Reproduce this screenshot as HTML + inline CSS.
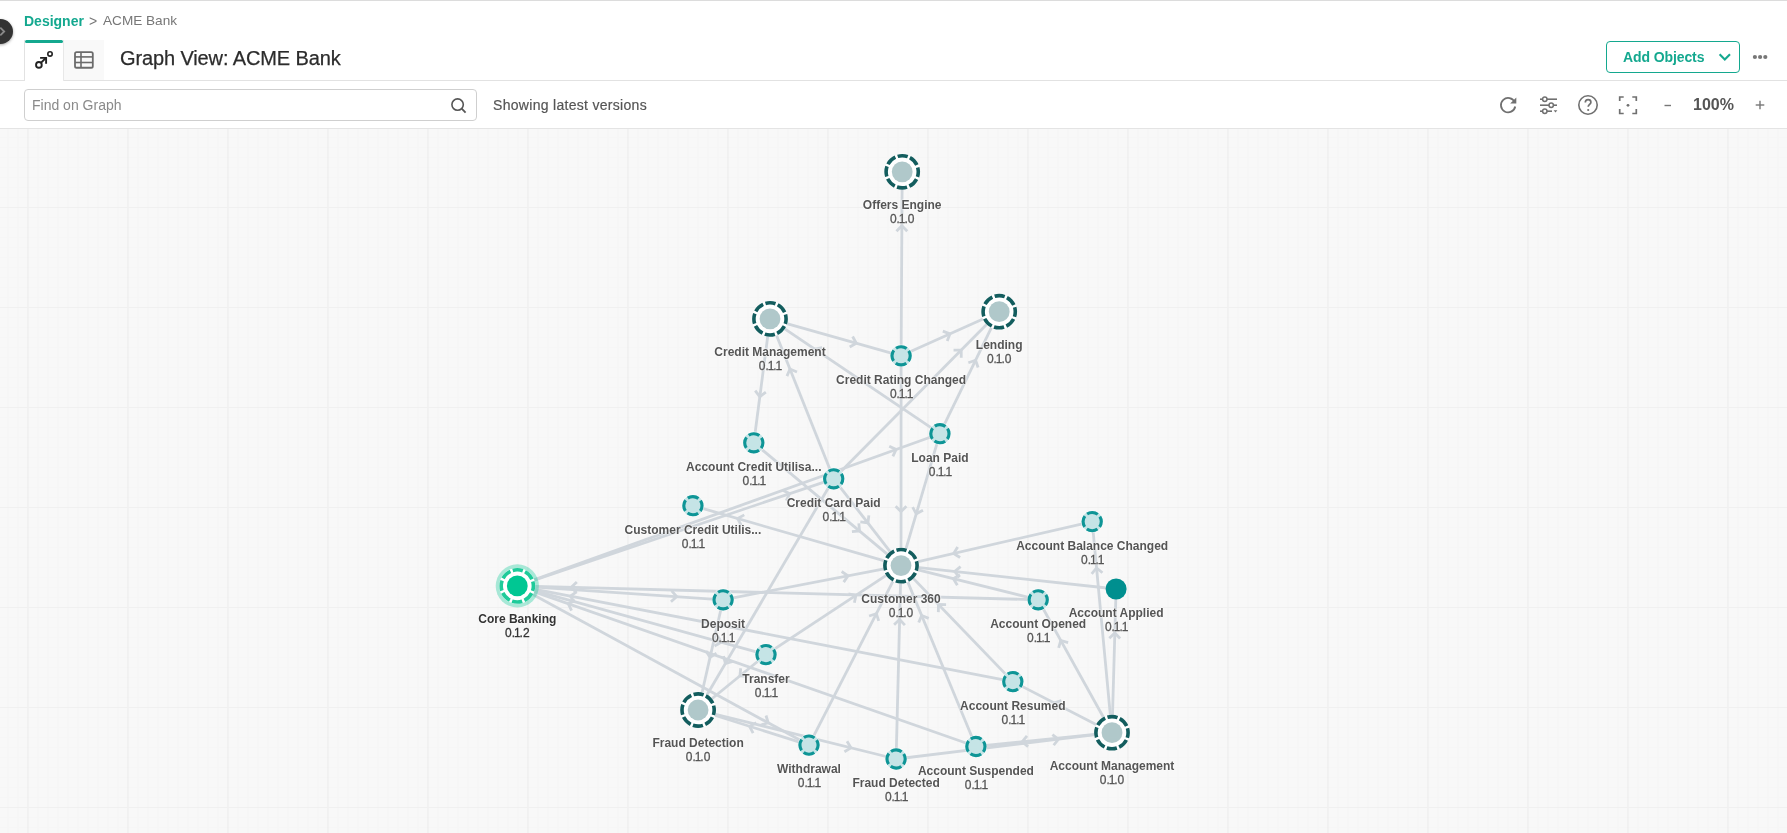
<!DOCTYPE html>
<html><head><meta charset="utf-8">
<style>
*{box-sizing:border-box;margin:0;padding:0}
html,body{width:1787px;height:833px;overflow:hidden;background:#fff;font-family:"Liberation Sans",sans-serif}
body>div{will-change:transform}
#top{position:absolute;left:0;top:0;width:1787px;height:1px;background:#dcdcdc}
#fab{position:absolute;left:-12.5px;top:19px;width:25px;height:25px;border-radius:50%;background:#333;box-shadow:0 1px 3px rgba(0,0,0,.35)}
.crumb{position:absolute;top:12px;font-size:14px;line-height:18px;white-space:nowrap}
#hdrline{position:absolute;left:0;top:80px;width:1787px;height:1px;background:#e2e2e2}
#tab1{position:absolute;left:24px;top:40px;width:40px;height:41px;background:#fff;border-left:1px solid #e2e2e2;border-right:1px solid #e8e8e8}
#tab1bar{position:absolute;left:25px;top:40px;width:38px;height:3px;border-radius:2px;background:#14a88f}
#tab2{position:absolute;left:64px;top:40px;width:40px;height:40px;background:#f9f9f9}
#title{position:absolute;left:120px;top:46px;font-size:20px;line-height:24px;color:#2c2c2c;white-space:nowrap;letter-spacing:-0.12px;-webkit-text-stroke:0.25px #2c2c2c}
#addbtn{position:absolute;left:1606px;top:41px;width:134px;height:32px;border:1px solid #14a88f;border-radius:4px}
#addtxt{position:absolute;left:1623px;top:49px;font-size:14px;line-height:16px;font-weight:bold;color:#14a88f;white-space:nowrap;letter-spacing:-0.1px}
#search{position:absolute;left:24px;top:89px;width:453px;height:32px;border:1px solid #cfcfcf;border-radius:4px;background:#fff}
#stxt{position:absolute;left:32px;top:97px;font-size:14px;line-height:16px;color:#8a8a8a;white-space:nowrap}
#show{position:absolute;left:493px;top:97px;font-size:14px;line-height:16px;color:#555;white-space:nowrap;letter-spacing:0.3px;-webkit-text-stroke:0.2px #555}
#zoom{position:absolute;left:1693px;top:96px;font-size:16px;line-height:18px;font-weight:bold;color:#555;white-space:nowrap}
#tbline{position:absolute;left:0;top:128px;width:1787px;height:1px;background:#e4e4e4}
#graph{position:absolute;left:0;top:129px;width:1787px;height:704px;background:#f8f8f8;overflow:hidden}
svg.g{position:absolute;left:0;top:0}
.gm{stroke:#f6f6f6;stroke-width:1}
.gmv{stroke:#f4f4f4;stroke-width:1}
.gM{stroke:#f0f0f0;stroke-width:1}
.gMv{stroke:#ebebeb;stroke-width:1}
.edges line{stroke:#d0d6dc;stroke-width:2.8}
.arrows path{fill:none;stroke:#d0d6dc;stroke-width:2.8;stroke-linecap:butt;stroke-linejoin:miter}
.lb{position:absolute;width:200px;text-align:center;font-size:12px;line-height:14px;white-space:nowrap}
.lb b{font-weight:bold}
.lb span{font-size:12px;-webkit-text-stroke:0.3px currentColor}
.lb i{font-style:normal;margin:0 -1.1px}
.lb{text-shadow:0 0 1px #fff,0 0 2px #fff,0 0 2px #fff}
</style></head><body>
<div id="top"></div>
<div id="fab"><svg width="26" height="26" style="position:absolute;left:0;top:0"><path d="M12.3,8.6 L16.2,12.5 L12.3,16.4" fill="none" stroke="#8a8a8a" stroke-width="1.8"/></svg></div>
<div class="crumb" style="left:24px;color:#14a88f;font-weight:bold">Designer</div>
<div class="crumb" style="left:89px;color:#777">&gt;</div>
<div class="crumb" style="left:103px;color:#777;font-size:13.6px">ACME Bank</div>
<div id="hdrline"></div>
<div id="tab2"></div>
<div id="tab1"></div>
<div id="tab1bar"></div>
<svg style="position:absolute;left:0;top:0" width="110" height="80">
 <circle cx="38.9" cy="64.9" r="2.85" fill="none" stroke="#222" stroke-width="1.9"/>
 <line x1="40.9" y1="62.9" x2="45.8" y2="58" stroke="#222" stroke-width="1.9"/>
 <path d="M40.1,57.9 L46.1,57.9 L46.1,63.7" fill="none" stroke="#222" stroke-width="1.9"/>
 <circle cx="50" cy="53.9" r="2.2" fill="none" stroke="#222" stroke-width="1.6"/>
 <rect x="75" y="52.15" width="17.8" height="15.6" rx="1.6" fill="none" stroke="#6b6b6b" stroke-width="1.8"/>
 <line x1="75" y1="56.9" x2="92.8" y2="56.9" stroke="#6b6b6b" stroke-width="1.6"/>
 <line x1="75" y1="62.5" x2="92.8" y2="62.5" stroke="#6b6b6b" stroke-width="1.6"/>
 <line x1="81" y1="52.15" x2="81" y2="67.75" stroke="#6b6b6b" stroke-width="1.6"/>
</svg>
<div id="title">Graph View: ACME Bank</div>
<div id="addbtn"></div>
<div id="addtxt">Add Objects</div>
<svg style="position:absolute;left:1716px;top:50px" width="18" height="14"><path d="M3.6,4.2 L8.8,9.4 L14,4.2" fill="none" stroke="#14a88f" stroke-width="2.1"/></svg>
<svg style="position:absolute;left:1748px;top:50px" width="24" height="14"><circle cx="6.9" cy="7" r="2.1" fill="#777"/><circle cx="12.1" cy="7" r="2.1" fill="#777"/><circle cx="17.3" cy="7" r="2.1" fill="#777"/></svg>
<div id="search"></div>
<div id="stxt">Find on Graph</div>
<svg style="position:absolute;left:448px;top:95px" width="22" height="22">
 <circle cx="9.6" cy="9.6" r="5.7" fill="none" stroke="#555" stroke-width="1.6"/>
 <line x1="13.7" y1="13.7" x2="17.6" y2="17.6" stroke="#555" stroke-width="1.8"/>
</svg>
<div id="show">Showing latest versions</div>
<!-- toolbar icons -->
<svg style="position:absolute;left:1496px;top:93px" width="24" height="24">
 <path d="M18.7,9.2 A7.2,7.2 0 1 0 19.2,13.5" fill="none" stroke="#707070" stroke-width="1.8"/>
 <path d="M20.3,4.5 L20.3,10.6 L14.2,10.6 Z" fill="#707070"/>
</svg>
<svg style="position:absolute;left:1536px;top:93px" width="24" height="24">
 <line x1="4" y1="6.2" x2="21" y2="6.2" stroke="#707070" stroke-width="1.6"/>
 <line x1="4" y1="12.2" x2="21" y2="12.2" stroke="#707070" stroke-width="1.6"/>
 <line x1="4" y1="18.2" x2="16" y2="18.2" stroke="#707070" stroke-width="1.6"/>
 <circle cx="8.8" cy="6.2" r="2.2" fill="#fff" stroke="#707070" stroke-width="1.5"/>
 <circle cx="15.2" cy="12.2" r="2.2" fill="#fff" stroke="#707070" stroke-width="1.5"/>
 <circle cx="8.8" cy="18.2" r="2.2" fill="#fff" stroke="#707070" stroke-width="1.5"/>
 <path d="M17.6,17.3 L21.4,17.3 L19.5,19.6 Z" fill="#707070"/>
</svg>
<svg style="position:absolute;left:1576px;top:93px" width="24" height="24">
 <circle cx="12" cy="12" r="9.2" fill="none" stroke="#707070" stroke-width="1.6"/>
 <path d="M9.3,9.6 C9.3,7.6 10.5,6.6 12.1,6.6 C13.8,6.6 14.9,7.7 14.9,9.2 C14.9,11.3 12.2,11.5 12.2,13.8" fill="none" stroke="#707070" stroke-width="1.7"/>
 <circle cx="12.2" cy="17" r="1.1" fill="#707070"/>
</svg>
<svg style="position:absolute;left:1616px;top:93px" width="24" height="24">
 <path d="M3.7,8 L3.7,4 L7.7,4 M16.3,4 L20.3,4 L20.3,8 M20.3,16 L20.3,20.5 L16.3,20.5 M7.7,20.5 L3.7,20.5 L3.7,16" fill="none" stroke="#707070" stroke-width="1.7"/>
 <circle cx="12" cy="12.3" r="1.4" fill="#707070"/>
</svg>
<svg style="position:absolute;left:1660px;top:98px" width="16" height="16"><line x1="4.5" y1="7.5" x2="11" y2="7.5" stroke="#777" stroke-width="1.4"/></svg>
<div id="zoom">100%</div>
<svg style="position:absolute;left:1752px;top:97px" width="16" height="16"><line x1="3.7" y1="8" x2="12.3" y2="8" stroke="#777" stroke-width="1.4"/><line x1="8" y1="3.7" x2="8" y2="12.3" stroke="#777" stroke-width="1.4"/></svg>
<div id="tbline"></div>
<div id="graph">
<svg class="g" width="1787" height="704" viewBox="0 129 1787 704">
<g><line x1="8" y1="128" x2="8" y2="833" class="gmv"/>
<line x1="18" y1="128" x2="18" y2="833" class="gmv"/>
<line x1="38" y1="128" x2="38" y2="833" class="gmv"/>
<line x1="48" y1="128" x2="48" y2="833" class="gmv"/>
<line x1="58" y1="128" x2="58" y2="833" class="gmv"/>
<line x1="68" y1="128" x2="68" y2="833" class="gmv"/>
<line x1="78" y1="128" x2="78" y2="833" class="gmv"/>
<line x1="88" y1="128" x2="88" y2="833" class="gmv"/>
<line x1="98" y1="128" x2="98" y2="833" class="gmv"/>
<line x1="108" y1="128" x2="108" y2="833" class="gmv"/>
<line x1="118" y1="128" x2="118" y2="833" class="gmv"/>
<line x1="138" y1="128" x2="138" y2="833" class="gmv"/>
<line x1="148" y1="128" x2="148" y2="833" class="gmv"/>
<line x1="158" y1="128" x2="158" y2="833" class="gmv"/>
<line x1="168" y1="128" x2="168" y2="833" class="gmv"/>
<line x1="178" y1="128" x2="178" y2="833" class="gmv"/>
<line x1="188" y1="128" x2="188" y2="833" class="gmv"/>
<line x1="198" y1="128" x2="198" y2="833" class="gmv"/>
<line x1="208" y1="128" x2="208" y2="833" class="gmv"/>
<line x1="218" y1="128" x2="218" y2="833" class="gmv"/>
<line x1="238" y1="128" x2="238" y2="833" class="gmv"/>
<line x1="248" y1="128" x2="248" y2="833" class="gmv"/>
<line x1="258" y1="128" x2="258" y2="833" class="gmv"/>
<line x1="268" y1="128" x2="268" y2="833" class="gmv"/>
<line x1="278" y1="128" x2="278" y2="833" class="gmv"/>
<line x1="288" y1="128" x2="288" y2="833" class="gmv"/>
<line x1="298" y1="128" x2="298" y2="833" class="gmv"/>
<line x1="308" y1="128" x2="308" y2="833" class="gmv"/>
<line x1="318" y1="128" x2="318" y2="833" class="gmv"/>
<line x1="338" y1="128" x2="338" y2="833" class="gmv"/>
<line x1="348" y1="128" x2="348" y2="833" class="gmv"/>
<line x1="358" y1="128" x2="358" y2="833" class="gmv"/>
<line x1="368" y1="128" x2="368" y2="833" class="gmv"/>
<line x1="378" y1="128" x2="378" y2="833" class="gmv"/>
<line x1="388" y1="128" x2="388" y2="833" class="gmv"/>
<line x1="398" y1="128" x2="398" y2="833" class="gmv"/>
<line x1="408" y1="128" x2="408" y2="833" class="gmv"/>
<line x1="418" y1="128" x2="418" y2="833" class="gmv"/>
<line x1="438" y1="128" x2="438" y2="833" class="gmv"/>
<line x1="448" y1="128" x2="448" y2="833" class="gmv"/>
<line x1="458" y1="128" x2="458" y2="833" class="gmv"/>
<line x1="468" y1="128" x2="468" y2="833" class="gmv"/>
<line x1="478" y1="128" x2="478" y2="833" class="gmv"/>
<line x1="488" y1="128" x2="488" y2="833" class="gmv"/>
<line x1="498" y1="128" x2="498" y2="833" class="gmv"/>
<line x1="508" y1="128" x2="508" y2="833" class="gmv"/>
<line x1="518" y1="128" x2="518" y2="833" class="gmv"/>
<line x1="538" y1="128" x2="538" y2="833" class="gmv"/>
<line x1="548" y1="128" x2="548" y2="833" class="gmv"/>
<line x1="558" y1="128" x2="558" y2="833" class="gmv"/>
<line x1="568" y1="128" x2="568" y2="833" class="gmv"/>
<line x1="578" y1="128" x2="578" y2="833" class="gmv"/>
<line x1="588" y1="128" x2="588" y2="833" class="gmv"/>
<line x1="598" y1="128" x2="598" y2="833" class="gmv"/>
<line x1="608" y1="128" x2="608" y2="833" class="gmv"/>
<line x1="618" y1="128" x2="618" y2="833" class="gmv"/>
<line x1="638" y1="128" x2="638" y2="833" class="gmv"/>
<line x1="648" y1="128" x2="648" y2="833" class="gmv"/>
<line x1="658" y1="128" x2="658" y2="833" class="gmv"/>
<line x1="668" y1="128" x2="668" y2="833" class="gmv"/>
<line x1="678" y1="128" x2="678" y2="833" class="gmv"/>
<line x1="688" y1="128" x2="688" y2="833" class="gmv"/>
<line x1="698" y1="128" x2="698" y2="833" class="gmv"/>
<line x1="708" y1="128" x2="708" y2="833" class="gmv"/>
<line x1="718" y1="128" x2="718" y2="833" class="gmv"/>
<line x1="738" y1="128" x2="738" y2="833" class="gmv"/>
<line x1="748" y1="128" x2="748" y2="833" class="gmv"/>
<line x1="758" y1="128" x2="758" y2="833" class="gmv"/>
<line x1="768" y1="128" x2="768" y2="833" class="gmv"/>
<line x1="778" y1="128" x2="778" y2="833" class="gmv"/>
<line x1="788" y1="128" x2="788" y2="833" class="gmv"/>
<line x1="798" y1="128" x2="798" y2="833" class="gmv"/>
<line x1="808" y1="128" x2="808" y2="833" class="gmv"/>
<line x1="818" y1="128" x2="818" y2="833" class="gmv"/>
<line x1="838" y1="128" x2="838" y2="833" class="gmv"/>
<line x1="848" y1="128" x2="848" y2="833" class="gmv"/>
<line x1="858" y1="128" x2="858" y2="833" class="gmv"/>
<line x1="868" y1="128" x2="868" y2="833" class="gmv"/>
<line x1="878" y1="128" x2="878" y2="833" class="gmv"/>
<line x1="888" y1="128" x2="888" y2="833" class="gmv"/>
<line x1="898" y1="128" x2="898" y2="833" class="gmv"/>
<line x1="908" y1="128" x2="908" y2="833" class="gmv"/>
<line x1="918" y1="128" x2="918" y2="833" class="gmv"/>
<line x1="938" y1="128" x2="938" y2="833" class="gmv"/>
<line x1="948" y1="128" x2="948" y2="833" class="gmv"/>
<line x1="958" y1="128" x2="958" y2="833" class="gmv"/>
<line x1="968" y1="128" x2="968" y2="833" class="gmv"/>
<line x1="978" y1="128" x2="978" y2="833" class="gmv"/>
<line x1="988" y1="128" x2="988" y2="833" class="gmv"/>
<line x1="998" y1="128" x2="998" y2="833" class="gmv"/>
<line x1="1008" y1="128" x2="1008" y2="833" class="gmv"/>
<line x1="1018" y1="128" x2="1018" y2="833" class="gmv"/>
<line x1="1038" y1="128" x2="1038" y2="833" class="gmv"/>
<line x1="1048" y1="128" x2="1048" y2="833" class="gmv"/>
<line x1="1058" y1="128" x2="1058" y2="833" class="gmv"/>
<line x1="1068" y1="128" x2="1068" y2="833" class="gmv"/>
<line x1="1078" y1="128" x2="1078" y2="833" class="gmv"/>
<line x1="1088" y1="128" x2="1088" y2="833" class="gmv"/>
<line x1="1098" y1="128" x2="1098" y2="833" class="gmv"/>
<line x1="1108" y1="128" x2="1108" y2="833" class="gmv"/>
<line x1="1118" y1="128" x2="1118" y2="833" class="gmv"/>
<line x1="1138" y1="128" x2="1138" y2="833" class="gmv"/>
<line x1="1148" y1="128" x2="1148" y2="833" class="gmv"/>
<line x1="1158" y1="128" x2="1158" y2="833" class="gmv"/>
<line x1="1168" y1="128" x2="1168" y2="833" class="gmv"/>
<line x1="1178" y1="128" x2="1178" y2="833" class="gmv"/>
<line x1="1188" y1="128" x2="1188" y2="833" class="gmv"/>
<line x1="1198" y1="128" x2="1198" y2="833" class="gmv"/>
<line x1="1208" y1="128" x2="1208" y2="833" class="gmv"/>
<line x1="1218" y1="128" x2="1218" y2="833" class="gmv"/>
<line x1="1238" y1="128" x2="1238" y2="833" class="gmv"/>
<line x1="1248" y1="128" x2="1248" y2="833" class="gmv"/>
<line x1="1258" y1="128" x2="1258" y2="833" class="gmv"/>
<line x1="1268" y1="128" x2="1268" y2="833" class="gmv"/>
<line x1="1278" y1="128" x2="1278" y2="833" class="gmv"/>
<line x1="1288" y1="128" x2="1288" y2="833" class="gmv"/>
<line x1="1298" y1="128" x2="1298" y2="833" class="gmv"/>
<line x1="1308" y1="128" x2="1308" y2="833" class="gmv"/>
<line x1="1318" y1="128" x2="1318" y2="833" class="gmv"/>
<line x1="1338" y1="128" x2="1338" y2="833" class="gmv"/>
<line x1="1348" y1="128" x2="1348" y2="833" class="gmv"/>
<line x1="1358" y1="128" x2="1358" y2="833" class="gmv"/>
<line x1="1368" y1="128" x2="1368" y2="833" class="gmv"/>
<line x1="1378" y1="128" x2="1378" y2="833" class="gmv"/>
<line x1="1388" y1="128" x2="1388" y2="833" class="gmv"/>
<line x1="1398" y1="128" x2="1398" y2="833" class="gmv"/>
<line x1="1408" y1="128" x2="1408" y2="833" class="gmv"/>
<line x1="1418" y1="128" x2="1418" y2="833" class="gmv"/>
<line x1="1438" y1="128" x2="1438" y2="833" class="gmv"/>
<line x1="1448" y1="128" x2="1448" y2="833" class="gmv"/>
<line x1="1458" y1="128" x2="1458" y2="833" class="gmv"/>
<line x1="1468" y1="128" x2="1468" y2="833" class="gmv"/>
<line x1="1478" y1="128" x2="1478" y2="833" class="gmv"/>
<line x1="1488" y1="128" x2="1488" y2="833" class="gmv"/>
<line x1="1498" y1="128" x2="1498" y2="833" class="gmv"/>
<line x1="1508" y1="128" x2="1508" y2="833" class="gmv"/>
<line x1="1518" y1="128" x2="1518" y2="833" class="gmv"/>
<line x1="1538" y1="128" x2="1538" y2="833" class="gmv"/>
<line x1="1548" y1="128" x2="1548" y2="833" class="gmv"/>
<line x1="1558" y1="128" x2="1558" y2="833" class="gmv"/>
<line x1="1568" y1="128" x2="1568" y2="833" class="gmv"/>
<line x1="1578" y1="128" x2="1578" y2="833" class="gmv"/>
<line x1="1588" y1="128" x2="1588" y2="833" class="gmv"/>
<line x1="1598" y1="128" x2="1598" y2="833" class="gmv"/>
<line x1="1608" y1="128" x2="1608" y2="833" class="gmv"/>
<line x1="1618" y1="128" x2="1618" y2="833" class="gmv"/>
<line x1="1638" y1="128" x2="1638" y2="833" class="gmv"/>
<line x1="1648" y1="128" x2="1648" y2="833" class="gmv"/>
<line x1="1658" y1="128" x2="1658" y2="833" class="gmv"/>
<line x1="1668" y1="128" x2="1668" y2="833" class="gmv"/>
<line x1="1678" y1="128" x2="1678" y2="833" class="gmv"/>
<line x1="1688" y1="128" x2="1688" y2="833" class="gmv"/>
<line x1="1698" y1="128" x2="1698" y2="833" class="gmv"/>
<line x1="1708" y1="128" x2="1708" y2="833" class="gmv"/>
<line x1="1718" y1="128" x2="1718" y2="833" class="gmv"/>
<line x1="1738" y1="128" x2="1738" y2="833" class="gmv"/>
<line x1="1748" y1="128" x2="1748" y2="833" class="gmv"/>
<line x1="1758" y1="128" x2="1758" y2="833" class="gmv"/>
<line x1="1768" y1="128" x2="1768" y2="833" class="gmv"/>
<line x1="1778" y1="128" x2="1778" y2="833" class="gmv"/>
<line x1="0" y1="137.5" x2="1787" y2="137.5" class="gm"/>
<line x1="0" y1="147.5" x2="1787" y2="147.5" class="gm"/>
<line x1="0" y1="157.5" x2="1787" y2="157.5" class="gm"/>
<line x1="0" y1="167.5" x2="1787" y2="167.5" class="gm"/>
<line x1="0" y1="177.5" x2="1787" y2="177.5" class="gm"/>
<line x1="0" y1="187.5" x2="1787" y2="187.5" class="gm"/>
<line x1="0" y1="197.5" x2="1787" y2="197.5" class="gm"/>
<line x1="0" y1="217.5" x2="1787" y2="217.5" class="gm"/>
<line x1="0" y1="227.5" x2="1787" y2="227.5" class="gm"/>
<line x1="0" y1="237.5" x2="1787" y2="237.5" class="gm"/>
<line x1="0" y1="247.5" x2="1787" y2="247.5" class="gm"/>
<line x1="0" y1="257.5" x2="1787" y2="257.5" class="gm"/>
<line x1="0" y1="267.5" x2="1787" y2="267.5" class="gm"/>
<line x1="0" y1="277.5" x2="1787" y2="277.5" class="gm"/>
<line x1="0" y1="287.5" x2="1787" y2="287.5" class="gm"/>
<line x1="0" y1="297.5" x2="1787" y2="297.5" class="gm"/>
<line x1="0" y1="317.5" x2="1787" y2="317.5" class="gm"/>
<line x1="0" y1="327.5" x2="1787" y2="327.5" class="gm"/>
<line x1="0" y1="337.5" x2="1787" y2="337.5" class="gm"/>
<line x1="0" y1="347.5" x2="1787" y2="347.5" class="gm"/>
<line x1="0" y1="357.5" x2="1787" y2="357.5" class="gm"/>
<line x1="0" y1="367.5" x2="1787" y2="367.5" class="gm"/>
<line x1="0" y1="377.5" x2="1787" y2="377.5" class="gm"/>
<line x1="0" y1="387.5" x2="1787" y2="387.5" class="gm"/>
<line x1="0" y1="397.5" x2="1787" y2="397.5" class="gm"/>
<line x1="0" y1="417.5" x2="1787" y2="417.5" class="gm"/>
<line x1="0" y1="427.5" x2="1787" y2="427.5" class="gm"/>
<line x1="0" y1="437.5" x2="1787" y2="437.5" class="gm"/>
<line x1="0" y1="447.5" x2="1787" y2="447.5" class="gm"/>
<line x1="0" y1="457.5" x2="1787" y2="457.5" class="gm"/>
<line x1="0" y1="467.5" x2="1787" y2="467.5" class="gm"/>
<line x1="0" y1="477.5" x2="1787" y2="477.5" class="gm"/>
<line x1="0" y1="487.5" x2="1787" y2="487.5" class="gm"/>
<line x1="0" y1="497.5" x2="1787" y2="497.5" class="gm"/>
<line x1="0" y1="517.5" x2="1787" y2="517.5" class="gm"/>
<line x1="0" y1="527.5" x2="1787" y2="527.5" class="gm"/>
<line x1="0" y1="537.5" x2="1787" y2="537.5" class="gm"/>
<line x1="0" y1="547.5" x2="1787" y2="547.5" class="gm"/>
<line x1="0" y1="557.5" x2="1787" y2="557.5" class="gm"/>
<line x1="0" y1="567.5" x2="1787" y2="567.5" class="gm"/>
<line x1="0" y1="577.5" x2="1787" y2="577.5" class="gm"/>
<line x1="0" y1="587.5" x2="1787" y2="587.5" class="gm"/>
<line x1="0" y1="597.5" x2="1787" y2="597.5" class="gm"/>
<line x1="0" y1="617.5" x2="1787" y2="617.5" class="gm"/>
<line x1="0" y1="627.5" x2="1787" y2="627.5" class="gm"/>
<line x1="0" y1="637.5" x2="1787" y2="637.5" class="gm"/>
<line x1="0" y1="647.5" x2="1787" y2="647.5" class="gm"/>
<line x1="0" y1="657.5" x2="1787" y2="657.5" class="gm"/>
<line x1="0" y1="667.5" x2="1787" y2="667.5" class="gm"/>
<line x1="0" y1="677.5" x2="1787" y2="677.5" class="gm"/>
<line x1="0" y1="687.5" x2="1787" y2="687.5" class="gm"/>
<line x1="0" y1="697.5" x2="1787" y2="697.5" class="gm"/>
<line x1="0" y1="717.5" x2="1787" y2="717.5" class="gm"/>
<line x1="0" y1="727.5" x2="1787" y2="727.5" class="gm"/>
<line x1="0" y1="737.5" x2="1787" y2="737.5" class="gm"/>
<line x1="0" y1="747.5" x2="1787" y2="747.5" class="gm"/>
<line x1="0" y1="757.5" x2="1787" y2="757.5" class="gm"/>
<line x1="0" y1="767.5" x2="1787" y2="767.5" class="gm"/>
<line x1="0" y1="777.5" x2="1787" y2="777.5" class="gm"/>
<line x1="0" y1="787.5" x2="1787" y2="787.5" class="gm"/>
<line x1="0" y1="797.5" x2="1787" y2="797.5" class="gm"/>
<line x1="0" y1="817.5" x2="1787" y2="817.5" class="gm"/>
<line x1="0" y1="827.5" x2="1787" y2="827.5" class="gm"/>
<line x1="28" y1="128" x2="28" y2="833" class="gMv"/>
<line x1="128" y1="128" x2="128" y2="833" class="gMv"/>
<line x1="228" y1="128" x2="228" y2="833" class="gMv"/>
<line x1="328" y1="128" x2="328" y2="833" class="gMv"/>
<line x1="428" y1="128" x2="428" y2="833" class="gMv"/>
<line x1="528" y1="128" x2="528" y2="833" class="gMv"/>
<line x1="628" y1="128" x2="628" y2="833" class="gMv"/>
<line x1="728" y1="128" x2="728" y2="833" class="gMv"/>
<line x1="828" y1="128" x2="828" y2="833" class="gMv"/>
<line x1="928" y1="128" x2="928" y2="833" class="gMv"/>
<line x1="1028" y1="128" x2="1028" y2="833" class="gMv"/>
<line x1="1128" y1="128" x2="1128" y2="833" class="gMv"/>
<line x1="1228" y1="128" x2="1228" y2="833" class="gMv"/>
<line x1="1328" y1="128" x2="1328" y2="833" class="gMv"/>
<line x1="1428" y1="128" x2="1428" y2="833" class="gMv"/>
<line x1="1528" y1="128" x2="1528" y2="833" class="gMv"/>
<line x1="1628" y1="128" x2="1628" y2="833" class="gMv"/>
<line x1="1728" y1="128" x2="1728" y2="833" class="gMv"/>
<line x1="0" y1="207.5" x2="1787" y2="207.5" class="gM"/>
<line x1="0" y1="307.5" x2="1787" y2="307.5" class="gM"/>
<line x1="0" y1="407.5" x2="1787" y2="407.5" class="gM"/>
<line x1="0" y1="507.5" x2="1787" y2="507.5" class="gM"/>
<line x1="0" y1="607.5" x2="1787" y2="607.5" class="gM"/>
<line x1="0" y1="707.5" x2="1787" y2="707.5" class="gM"/>
<line x1="0" y1="807.5" x2="1787" y2="807.5" class="gM"/></g>
<g class="edges"><line x1="901.1" y1="355.8" x2="902.2" y2="171.8"/>
<line x1="901.1" y1="355.8" x2="901.0" y2="565.6"/>
<line x1="770.0" y1="318.9" x2="901.1" y2="355.8"/>
<line x1="901.1" y1="355.8" x2="999.2" y2="311.7"/>
<line x1="770.0" y1="318.9" x2="753.8" y2="442.8"/>
<line x1="833.7" y1="478.8" x2="770.0" y2="318.9"/>
<line x1="939.9" y1="433.7" x2="770.0" y2="318.9"/>
<line x1="939.9" y1="433.7" x2="999.2" y2="311.7"/>
<line x1="833.7" y1="478.8" x2="999.2" y2="311.7"/>
<line x1="517.3" y1="585.9" x2="833.7" y2="478.8"/>
<line x1="517.3" y1="585.9" x2="939.9" y2="433.7"/>
<line x1="753.8" y1="442.8" x2="901.0" y2="565.6"/>
<line x1="833.7" y1="478.8" x2="901.0" y2="565.6"/>
<line x1="939.9" y1="433.7" x2="901.0" y2="565.6"/>
<line x1="901.0" y1="565.6" x2="692.9" y2="505.7"/>
<line x1="833.7" y1="478.8" x2="698.1" y2="710.0"/>
<line x1="1038.2" y1="599.8" x2="517.3" y2="585.9"/>
<line x1="517.3" y1="585.9" x2="723.1" y2="599.8"/>
<line x1="723.1" y1="599.8" x2="901.0" y2="565.6"/>
<line x1="1012.8" y1="681.6" x2="517.3" y2="585.9"/>
<line x1="517.3" y1="585.9" x2="766.0" y2="654.6"/>
<line x1="975.9" y1="746.5" x2="517.3" y2="585.9"/>
<line x1="517.3" y1="585.9" x2="809.0" y2="745.1"/>
<line x1="723.1" y1="599.8" x2="698.1" y2="710.0"/>
<line x1="766.0" y1="654.6" x2="698.1" y2="710.0"/>
<line x1="766.0" y1="654.6" x2="901.0" y2="565.6"/>
<line x1="809.0" y1="745.1" x2="698.1" y2="710.0"/>
<line x1="698.1" y1="710.0" x2="896.1" y2="759.0"/>
<line x1="809.0" y1="745.1" x2="901.0" y2="565.6"/>
<line x1="896.1" y1="759.0" x2="901.0" y2="565.6"/>
<line x1="975.9" y1="746.5" x2="901.0" y2="565.6"/>
<line x1="896.1" y1="759.0" x2="1112.0" y2="732.7"/>
<line x1="1112.0" y1="732.7" x2="975.9" y2="746.5"/>
<line x1="1112.0" y1="732.7" x2="1012.8" y2="681.6"/>
<line x1="1112.0" y1="732.7" x2="1038.2" y2="599.8"/>
<line x1="1112.0" y1="732.7" x2="1116.1" y2="589.0"/>
<line x1="1112.0" y1="732.7" x2="1092.2" y2="521.6"/>
<line x1="1012.8" y1="681.6" x2="901.0" y2="565.6"/>
<line x1="1092.2" y1="521.6" x2="901.0" y2="565.6"/>
<line x1="1116.1" y1="589.0" x2="901.0" y2="565.6"/>
<line x1="1038.2" y1="599.8" x2="901.0" y2="565.6"/></g>
<g class="arrows"><path d="M-5.4,-5.4 L0,0 L-5.4,5.4" transform="translate(901.88,225.8) rotate(-89.66)"/>
<path d="M-5.4,-5.4 L0,0 L-5.4,5.4" transform="translate(901.03,511.6) rotate(90.03)"/>
<path d="M-5.4,-5.4 L0,0 L-5.4,5.4" transform="translate(856.34,343.2) rotate(15.72)"/>
<path d="M-5.4,-5.4 L0,0 L-5.4,5.4" transform="translate(949.95,333.84) rotate(-24.21)"/>
<path d="M-5.4,-5.4 L0,0 L-5.4,5.4" transform="translate(759.83,396.69) rotate(97.45)"/>
<path d="M-5.4,-5.4 L0,0 L-5.4,5.4" transform="translate(789.98,369.07) rotate(-111.72)"/>
<path d="M-5.4,-5.4 L0,0 L-5.4,5.4" transform="translate(814.74,349.13) rotate(-145.95)"/>
<path d="M-5.4,-5.4 L0,0 L-5.4,5.4" transform="translate(975.59,360.27) rotate(-64.08)"/>
<path d="M-5.4,-5.4 L0,0 L-5.4,5.4" transform="translate(961.2,350.07) rotate(-45.28)"/>
<path d="M-5.4,-5.4 L0,0 L-5.4,5.4" transform="translate(789.65,493.71) rotate(-18.7)"/>
<path d="M-5.4,-5.4 L0,0 L-5.4,5.4" transform="translate(896.15,449.46) rotate(-19.81)"/>
<path d="M-5.4,-5.4 L0,0 L-5.4,5.4" transform="translate(859.53,531.01) rotate(39.84)"/>
<path d="M-5.4,-5.4 L0,0 L-5.4,5.4" transform="translate(867.91,522.92) rotate(52.21)"/>
<path d="M-5.4,-5.4 L0,0 L-5.4,5.4" transform="translate(916.28,513.81) rotate(106.43)"/>
<path d="M-5.4,-5.4 L0,0 L-5.4,5.4" transform="translate(737.59,518.56) rotate(-163.94)"/>
<path d="M-5.4,-5.4 L0,0 L-5.4,5.4" transform="translate(725.42,663.42) rotate(120.39)"/>
<path d="M-5.4,-5.4 L0,0 L-5.4,5.4" transform="translate(571.28,587.34) rotate(-178.47)"/>
<path d="M-5.4,-5.4 L0,0 L-5.4,5.4" transform="translate(676.71,596.67) rotate(3.86)"/>
<path d="M-5.4,-5.4 L0,0 L-5.4,5.4" transform="translate(847.97,575.79) rotate(-10.88)"/>
<path d="M-5.4,-5.4 L0,0 L-5.4,5.4" transform="translate(570.32,596.14) rotate(-169.07)"/>
<path d="M-5.4,-5.4 L0,0 L-5.4,5.4" transform="translate(721.18,642.22) rotate(15.44)"/>
<path d="M-5.4,-5.4 L0,0 L-5.4,5.4" transform="translate(568.27,603.75) rotate(-160.7)"/>
<path d="M-5.4,-5.4 L0,0 L-5.4,5.4" transform="translate(768.18,722.82) rotate(28.62)"/>
<path d="M-5.4,-5.4 L0,0 L-5.4,5.4" transform="translate(710.05,657.34) rotate(102.78)"/>
<path d="M-5.4,-5.4 L0,0 L-5.4,5.4" transform="translate(739.94,675.86) rotate(140.79)"/>
<path d="M-5.4,-5.4 L0,0 L-5.4,5.4" transform="translate(855.92,595.32) rotate(-33.4)"/>
<path d="M-5.4,-5.4 L0,0 L-5.4,5.4" transform="translate(749.58,726.29) rotate(-162.44)"/>
<path d="M-5.4,-5.4 L0,0 L-5.4,5.4" transform="translate(850.96,747.83) rotate(13.9)"/>
<path d="M-5.4,-5.4 L0,0 L-5.4,5.4" transform="translate(876.37,613.66) rotate(-62.86)"/>
<path d="M-5.4,-5.4 L0,0 L-5.4,5.4" transform="translate(899.63,619.58) rotate(-88.55)"/>
<path d="M-5.4,-5.4 L0,0 L-5.4,5.4" transform="translate(921.66,615.49) rotate(-112.49)"/>
<path d="M-5.4,-5.4 L0,0 L-5.4,5.4" transform="translate(1058.4,739.23) rotate(-6.95)"/>
<path d="M-5.4,-5.4 L0,0 L-5.4,5.4" transform="translate(1022.16,741.81) rotate(174.21)"/>
<path d="M-5.4,-5.4 L0,0 L-5.4,5.4" transform="translate(1054.14,702.89) rotate(-152.75)"/>
<path d="M-5.4,-5.4 L0,0 L-5.4,5.4" transform="translate(1060.77,640.45) rotate(-119.04)"/>
<path d="M-5.4,-5.4 L0,0 L-5.4,5.4" transform="translate(1114.85,632.98) rotate(-88.37)"/>
<path d="M-5.4,-5.4 L0,0 L-5.4,5.4" transform="translate(1096.54,567.9) rotate(-95.36)"/>
<path d="M-5.4,-5.4 L0,0 L-5.4,5.4" transform="translate(938.47,604.48) rotate(-133.94)"/>
<path d="M-5.4,-5.4 L0,0 L-5.4,5.4" transform="translate(953.62,553.49) rotate(167.04)"/>
<path d="M-5.4,-5.4 L0,0 L-5.4,5.4" transform="translate(954.68,571.44) rotate(-173.79)"/>
<path d="M-5.4,-5.4 L0,0 L-5.4,5.4" transform="translate(953.4,578.66) rotate(-166.0)"/></g>
<g><circle cx="902.2" cy="171.8" r="18" fill="#fff"/>
<circle cx="902.2" cy="171.8" r="10.4" fill="#b0c8ca"/>
<circle cx="902.2" cy="171.8" r="16.1" fill="none" stroke="#135d5e" stroke-width="3.6" stroke-dasharray="10.245 2.400" stroke-dashoffset="5.122"/>
<circle cx="770.0" cy="318.9" r="18" fill="#fff"/>
<circle cx="770.0" cy="318.9" r="10.4" fill="#b0c8ca"/>
<circle cx="770.0" cy="318.9" r="16.1" fill="none" stroke="#135d5e" stroke-width="3.6" stroke-dasharray="10.245 2.400" stroke-dashoffset="5.122"/>
<circle cx="999.2" cy="311.7" r="18" fill="#fff"/>
<circle cx="999.2" cy="311.7" r="10.4" fill="#b0c8ca"/>
<circle cx="999.2" cy="311.7" r="16.1" fill="none" stroke="#135d5e" stroke-width="3.6" stroke-dasharray="10.245 2.400" stroke-dashoffset="5.122"/>
<circle cx="901.1" cy="355.8" r="11.2" fill="#fff" opacity="0.6"/>
<circle cx="901.1" cy="355.8" r="10.6" fill="#c5e4e6"/>
<circle cx="901.1" cy="355.8" r="9.1" fill="none" stroke="#0e9596" stroke-width="3.1" stroke-dasharray="11.294 3.000" stroke-dashoffset="5.647"/>
<circle cx="753.8" cy="442.8" r="11.2" fill="#fff" opacity="0.6"/>
<circle cx="753.8" cy="442.8" r="10.6" fill="#c5e4e6"/>
<circle cx="753.8" cy="442.8" r="9.1" fill="none" stroke="#0e9596" stroke-width="3.1" stroke-dasharray="11.294 3.000" stroke-dashoffset="5.647"/>
<circle cx="939.9" cy="433.7" r="11.2" fill="#fff" opacity="0.6"/>
<circle cx="939.9" cy="433.7" r="10.6" fill="#c5e4e6"/>
<circle cx="939.9" cy="433.7" r="9.1" fill="none" stroke="#0e9596" stroke-width="3.1" stroke-dasharray="11.294 3.000" stroke-dashoffset="5.647"/>
<circle cx="833.7" cy="478.8" r="11.2" fill="#fff" opacity="0.6"/>
<circle cx="833.7" cy="478.8" r="10.6" fill="#c5e4e6"/>
<circle cx="833.7" cy="478.8" r="9.1" fill="none" stroke="#0e9596" stroke-width="3.1" stroke-dasharray="11.294 3.000" stroke-dashoffset="5.647"/>
<circle cx="692.9" cy="505.7" r="11.2" fill="#fff" opacity="0.6"/>
<circle cx="692.9" cy="505.7" r="10.6" fill="#c5e4e6"/>
<circle cx="692.9" cy="505.7" r="9.1" fill="none" stroke="#0e9596" stroke-width="3.1" stroke-dasharray="11.294 3.000" stroke-dashoffset="5.647"/>
<circle cx="1092.2" cy="521.6" r="11.2" fill="#fff" opacity="0.6"/>
<circle cx="1092.2" cy="521.6" r="10.6" fill="#c5e4e6"/>
<circle cx="1092.2" cy="521.6" r="9.1" fill="none" stroke="#0e9596" stroke-width="3.1" stroke-dasharray="11.294 3.000" stroke-dashoffset="5.647"/>
<circle cx="901.0" cy="565.6" r="18" fill="#fff"/>
<circle cx="901.0" cy="565.6" r="10.4" fill="#b0c8ca"/>
<circle cx="901.0" cy="565.6" r="16.1" fill="none" stroke="#135d5e" stroke-width="3.6" stroke-dasharray="10.245 2.400" stroke-dashoffset="5.122"/>
<circle cx="517.3" cy="585.9" r="21.6" fill="rgba(0,199,147,0.32)"/>
<circle cx="517.3" cy="585.9" r="18" fill="#fff"/>
<circle cx="517.3" cy="585.9" r="10.4" fill="#00c793"/>
<circle cx="517.3" cy="585.9" r="16.1" fill="none" stroke="#1ecb9a" stroke-width="3.6" stroke-dasharray="10.245 2.400" stroke-dashoffset="5.122"/>
<circle cx="1116.1" cy="589.0" r="10.5" fill="#008f8f"/>
<circle cx="723.1" cy="599.8" r="11.2" fill="#fff" opacity="0.6"/>
<circle cx="723.1" cy="599.8" r="10.6" fill="#c5e4e6"/>
<circle cx="723.1" cy="599.8" r="9.1" fill="none" stroke="#0e9596" stroke-width="3.1" stroke-dasharray="11.294 3.000" stroke-dashoffset="5.647"/>
<circle cx="1038.2" cy="599.8" r="11.2" fill="#fff" opacity="0.6"/>
<circle cx="1038.2" cy="599.8" r="10.6" fill="#c5e4e6"/>
<circle cx="1038.2" cy="599.8" r="9.1" fill="none" stroke="#0e9596" stroke-width="3.1" stroke-dasharray="11.294 3.000" stroke-dashoffset="5.647"/>
<circle cx="766.0" cy="654.6" r="11.2" fill="#fff" opacity="0.6"/>
<circle cx="766.0" cy="654.6" r="10.6" fill="#c5e4e6"/>
<circle cx="766.0" cy="654.6" r="9.1" fill="none" stroke="#0e9596" stroke-width="3.1" stroke-dasharray="11.294 3.000" stroke-dashoffset="5.647"/>
<circle cx="1012.8" cy="681.6" r="11.2" fill="#fff" opacity="0.6"/>
<circle cx="1012.8" cy="681.6" r="10.6" fill="#c5e4e6"/>
<circle cx="1012.8" cy="681.6" r="9.1" fill="none" stroke="#0e9596" stroke-width="3.1" stroke-dasharray="11.294 3.000" stroke-dashoffset="5.647"/>
<circle cx="698.1" cy="710.0" r="18" fill="#fff"/>
<circle cx="698.1" cy="710.0" r="10.4" fill="#b0c8ca"/>
<circle cx="698.1" cy="710.0" r="16.1" fill="none" stroke="#135d5e" stroke-width="3.6" stroke-dasharray="10.245 2.400" stroke-dashoffset="5.122"/>
<circle cx="1112.0" cy="732.7" r="18" fill="#fff"/>
<circle cx="1112.0" cy="732.7" r="10.4" fill="#b0c8ca"/>
<circle cx="1112.0" cy="732.7" r="16.1" fill="none" stroke="#135d5e" stroke-width="3.6" stroke-dasharray="10.245 2.400" stroke-dashoffset="5.122"/>
<circle cx="809.0" cy="745.1" r="11.2" fill="#fff" opacity="0.6"/>
<circle cx="809.0" cy="745.1" r="10.6" fill="#c5e4e6"/>
<circle cx="809.0" cy="745.1" r="9.1" fill="none" stroke="#0e9596" stroke-width="3.1" stroke-dasharray="11.294 3.000" stroke-dashoffset="5.647"/>
<circle cx="896.1" cy="759.0" r="11.2" fill="#fff" opacity="0.6"/>
<circle cx="896.1" cy="759.0" r="10.6" fill="#c5e4e6"/>
<circle cx="896.1" cy="759.0" r="9.1" fill="none" stroke="#0e9596" stroke-width="3.1" stroke-dasharray="11.294 3.000" stroke-dashoffset="5.647"/>
<circle cx="975.9" cy="746.5" r="11.2" fill="#fff" opacity="0.6"/>
<circle cx="975.9" cy="746.5" r="10.6" fill="#c5e4e6"/>
<circle cx="975.9" cy="746.5" r="9.1" fill="none" stroke="#0e9596" stroke-width="3.1" stroke-dasharray="11.294 3.000" stroke-dashoffset="5.647"/></g>
</svg>
<div style="position:absolute;left:0;top:-129px">
<div class="lb" style="left:802.2px;top:197.8px;color:#555"><b>Offers Engine</b><br><span>0.<i>1</i>.0</span></div>
<div class="lb" style="left:670.0px;top:344.9px;color:#555"><b>Credit Management</b><br><span>0.<i>1</i>.<i>1</i></span></div>
<div class="lb" style="left:899.2px;top:337.7px;color:#555"><b>Lending</b><br><span>0.<i>1</i>.0</span></div>
<div class="lb" style="left:801.1px;top:372.8px;color:#555"><b>Credit Rating Changed</b><br><span>0.<i>1</i>.<i>1</i></span></div>
<div class="lb" style="left:653.8px;top:459.8px;color:#555"><b>Account Credit Utilisa...</b><br><span>0.<i>1</i>.<i>1</i></span></div>
<div class="lb" style="left:839.9px;top:450.7px;color:#555"><b>Loan Paid</b><br><span>0.<i>1</i>.<i>1</i></span></div>
<div class="lb" style="left:733.7px;top:495.8px;color:#555"><b>Credit Card Paid</b><br><span>0.<i>1</i>.<i>1</i></span></div>
<div class="lb" style="left:592.9px;top:522.7px;color:#555"><b>Customer Credit Utilis...</b><br><span>0.<i>1</i>.<i>1</i></span></div>
<div class="lb" style="left:992.2px;top:538.6px;color:#555"><b>Account Balance Changed</b><br><span>0.<i>1</i>.<i>1</i></span></div>
<div class="lb" style="left:801.0px;top:591.6px;color:#555"><b>Customer 360</b><br><span>0.<i>1</i>.0</span></div>
<div class="lb" style="left:417.3px;top:611.9px;color:#333"><b>Core Banking</b><br><span>0.<i>1</i>.2</span></div>
<div class="lb" style="left:1016.1px;top:605.5px;color:#555"><b>Account Applied</b><br><span>0.<i>1</i>.<i>1</i></span></div>
<div class="lb" style="left:623.1px;top:616.8px;color:#555"><b>Deposit</b><br><span>0.<i>1</i>.<i>1</i></span></div>
<div class="lb" style="left:938.2px;top:616.8px;color:#555"><b>Account Opened</b><br><span>0.<i>1</i>.<i>1</i></span></div>
<div class="lb" style="left:666.0px;top:671.6px;color:#555"><b>Transfer</b><br><span>0.<i>1</i>.<i>1</i></span></div>
<div class="lb" style="left:912.8px;top:698.6px;color:#555"><b>Account Resumed</b><br><span>0.<i>1</i>.<i>1</i></span></div>
<div class="lb" style="left:598.1px;top:736.0px;color:#555"><b>Fraud Detection</b><br><span>0.<i>1</i>.0</span></div>
<div class="lb" style="left:1012.0px;top:758.7px;color:#555"><b>Account Management</b><br><span>0.<i>1</i>.0</span></div>
<div class="lb" style="left:709.0px;top:762.1px;color:#555"><b>Withdrawal</b><br><span>0.<i>1</i>.<i>1</i></span></div>
<div class="lb" style="left:796.1px;top:776.0px;color:#555"><b>Fraud Detected</b><br><span>0.<i>1</i>.<i>1</i></span></div>
<div class="lb" style="left:875.9px;top:763.5px;color:#555"><b>Account Suspended</b><br><span>0.<i>1</i>.<i>1</i></span></div>
</div>
</div>
</body></html>
